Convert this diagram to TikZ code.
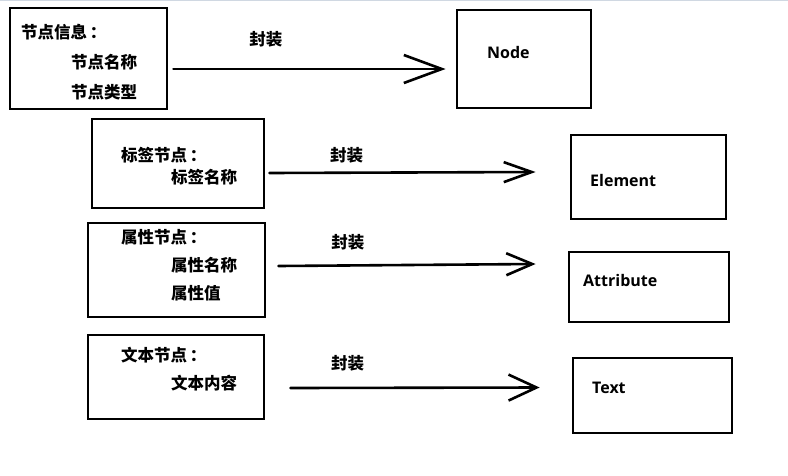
\documentclass[tikz,border=0pt]{standalone}
\usepackage{fontspec}
\usepackage{tikz}
\usetikzlibrary{positioning,arrows.meta}
\newfontfamily\cjk{Noto Sans CJK SC}
\newfontfamily\lat{Open Sans}

\tikzset{
    box/.style={draw, line width=2.8pt, inner sep=0pt},
    zh/.style={font=\cjk\bfseries\fontsize{16.5}{18}\selectfont, inner sep=0pt, anchor=west},
    en/.style={font=\lat\bfseries\fontsize{16}{18}\selectfont, inner sep=0pt, anchor=west},
    wrap/.style={line width=2.6pt, line cap=round}
}

\begin{document}
\begin{tikzpicture}[x=1pt, y=-1pt]
\useasboundingbox (0,0) rectangle (788,475);
\draw[color={rgb,255:red,208;green,216;blue,226}, line width=1.2pt] (0,0.6) -- (788,0.6);

% left side: node kinds
\node[box, minimum width=157, minimum height=101] (info) at (88.5,58.5) {};
\node[zh] (infoT) at (21,32) {节点信息\,：};
\node[zh] (infoA) at (71,62) {节点名称};
\node[zh] (infoB) at (71,92) {节点类型};

\node[box, minimum width=172, minimum height=89] (tag) at (178,163.5) {};
\node[zh] (tagT) at (121,155) {标签节点\,：};
\node[zh] (tagA) at (171,177) {标签名称};

\node[box, minimum width=177, minimum height=94] (attr) at (176.5,270) {};
\node[zh] (attrT) at (121,237) {属性节点\,：};
\node[zh] (attrA) at (171,265) {属性名称};
\node[zh] (attrB) at (171,293) {属性值};

\node[box, minimum width=176, minimum height=84] (txt) at (176,377) {};
\node[zh] (txtT) at (121,355) {文本节点\,：};
\node[zh] (txtA) at (171,383) {文本内容};

% right side: classes
\node[box, minimum width=134, minimum height=98] (node) at (524,59) {};
\node[en] (nodeT) at (487,52) {Node};
\node[box, minimum width=155, minimum height=84] (elem) at (648.5,177) {};
\node[en] (elemT) at (590,180) {Element};
\node[box, minimum width=160, minimum height=70] (attrib) at (649,287) {};
\node[en] (attribT) at (583,280) {Attribute};
\node[box, minimum width=159, minimum height=75] (text) at (652.5,395.5) {};
\node[en] (textT) at (592,388) {Text};

% arrows
\draw[wrap, -{Straight Barb[length=38pt, width=28pt, line width=2.6pt]}]
    ([shift={(5,10.5)}]info.east) -- node[zh, anchor=center, above=20pt, pos=0.34] (lab1) {封装} ([shift={(-10,10)}]node.west);
\draw[wrap, -{Straight Barb[length=28pt, width=20pt, line width=2.6pt]}]
    ([shift={(4,9.5)}]tag.east) -- node[zh, anchor=center, above=8pt, pos=0.29] (lab2) {封装} ([shift={(-34,-5)}]elem.west);
\draw[wrap, -{Straight Barb[length=26pt, width=22pt, line width=2.6pt]}]
    ([shift={(12,-4)}]attr.east) -- node[zh, anchor=center, above=14pt, pos=0.27] (lab3) {封装} ([shift={(-32,-23)}]attrib.west);
\draw[wrap, -{Straight Barb[length=28pt, width=26pt, line width=2.6pt]}]
    ([shift={(25,11)}]txt.east) -- node[zh, anchor=center, above=15pt, pos=0.23] (lab4) {封装} ([shift={(-32,-8)}]text.west);
\end{tikzpicture}
\end{document}
